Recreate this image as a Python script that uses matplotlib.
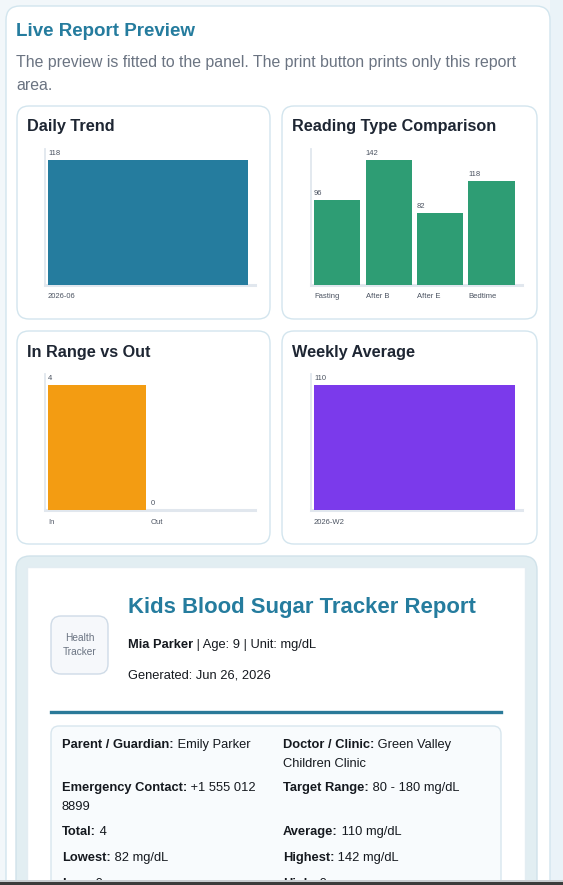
import matplotlib
matplotlib.use("Agg")
import matplotlib.pyplot as plt
from matplotlib.patches import FancyBboxPatch, Rectangle
from matplotlib.lines import Line2D

plt.rcParams['font.family'] = ['Liberation Sans', 'DejaVu Sans']

# ---------------- data ----------------
daily_labels = ["2026-06"]
daily_values = [118]
type_labels = ["Fasting", "After B", "After E", "Bedtime"]
type_values = [96, 142, 82, 118]
range_labels = ["In", "Out"]
range_values = [4, 0]
weekly_labels = ["2026-W2"]
weekly_values = [110]

W, H = 563, 885
fig = plt.figure(figsize=(W / 100, H / 100), dpi=100)
fig.patch.set_facecolor('#f2f7fa')

bg = fig.add_axes([0, 0, 1, 1])
bg.set_xlim(0, W)
bg.set_ylim(H, 0)
bg.axis('off')


def rbox(x0, y0, x1, y1, r, fc, ec, lw=1.0, z=1):
    p = FancyBboxPatch((x0, y0), x1 - x0, y1 - y0,
                       boxstyle=f"round,pad=0,rounding_size={r}",
                       fc=fc, ec=ec, lw=lw, zorder=z)
    bg.add_patch(p)
    return p


# right strip background
bg.add_patch(Rectangle((550, 0), 13, H, fc='#eaf3f8', ec='none', zorder=0))

# outer panel
rbox(6, 6, 550, 960, 14, 'white', '#d2e5ee', 1.0, 1)

TITLE_BLUE = '#257c9e'
DARK = '#1e2633'

bg.text(16, 31, "Live Report Preview", fontsize=13.5, fontweight='bold',
        color=TITLE_BLUE, va='center', ha='left', zorder=5)
bg.text(16, 63, "The preview is fitted to the panel. The print button prints only this report",
        fontsize=11.4, color='#6b7482', va='center', ha='left', zorder=5)
bg.text(16, 86, "area.", fontsize=11.4, color='#6b7482', va='center', ha='left', zorder=5)

# chart cards
cards = [
    (17, 106, 270, 319, "Daily Trend"),
    (282, 106, 537, 319, "Reading Type Comparison"),
    (17, 331, 270, 544, "In Range vs Out"),
    (282, 331, 537, 544, "Weekly Average"),
]
for (x0, y0, x1, y1, t) in cards:
    rbox(x0, y0, x1, y1, 12, 'white', '#d3e5ee', 1.0, 2)
    bg.text(x0 + 10, y0 + 21, t, fontsize=11.7, fontweight='bold', color=DARK,
            va='center', ha='left', zorder=5)

SMALL = 5.5


def bar_chart(x0, x1, ytop, ybase, labels, values, color):
    ax = fig.add_axes([x0 / W, 1 - ybase / H, (x1 - x0) / W, (ybase - ytop) / H])
    ax.set_facecolor('none')
    n = len(values)
    bar_px = (200 - 5 * (n - 1)) / n
    slot_px = bar_px + 5
    bw = bar_px / slot_px
    xs = list(range(n))
    ax.bar(xs, values, width=bw, align='edge', color=color, zorder=3)
    ax.set_xlim(-3 / slot_px, (n - 1) + bw + 7 / slot_px)
    vmax = max(values)
    ax.set_ylim(0, vmax * (ybase - ytop) / 125.0)
    for s in ['top', 'right']:
        ax.spines[s].set_visible(False)
    ax.spines['left'].set_color('#e1e7ee')
    ax.spines['left'].set_linewidth(1.3)
    ax.spines['bottom'].set_color('#e1e7ee')
    ax.spines['bottom'].set_linewidth(2.2)
    ax.set_xticks([])
    ax.set_yticks([])
    for i, (lab, v) in enumerate(zip(labels, values)):
        ax.annotate(str(v), (i, v), xytext=(0, 3), textcoords='offset pixels',
                    ha='left', va='bottom', fontsize=SMALL, color='#4b5361', zorder=4)
        ax.annotate(lab, (i, 0), xytext=(0, -12), textcoords='offset pixels',
                    ha='left', va='center', fontsize=SMALL, color='#4b5361',
                    annotation_clip=False)
    return ax


bar_chart(45, 255, 149, 285, daily_labels, daily_values, '#257c9e')
bar_chart(311, 522, 149, 285, type_labels, type_values, '#2e9d74')
bar_chart(45, 255, 374, 510, range_labels, range_values, '#f39c12')
bar_chart(311, 522, 374, 510, weekly_labels, weekly_values, '#7b3aeb')

# report container
rbox(16, 556, 537, 990, 14, '#e2eef2', '#d0e2ea', 1.0, 2)
bg.add_patch(Rectangle((27, 567), 498, 400, fc='white', ec='#e3edf2', lw=1.0, zorder=3))

# logo
rbox(51, 616, 108, 674, 10, '#f6f8fb', '#cfdbe7', 1.0, 4)
bg.text(80, 638, "Health", fontsize=7.3, color='#6b7482', ha='center', va='center', zorder=5)
bg.text(80, 652, "Tracker", fontsize=7.3, color='#6b7482', ha='center', va='center', zorder=5)

bg.text(128, 607, "Kids Blood Sugar Tracker Report", fontsize=15.9, fontweight='bold',
        color=TITLE_BLUE, ha='left', va='center', zorder=5)

BODY = 9.3


def mixed(x, y, bold, rest, size=BODY):
    t = bg.text(x, y, bold, fontsize=size, fontweight='bold', color='#15191f',
                ha='left', va='center', zorder=5)
    if rest:
        bg.annotate(rest, xy=(1, 0.5), xycoords=t, fontsize=size, color='#15191f',
                    ha='left', va='center', zorder=5)
    return t


mixed(128, 645, "Mia Parker", " | Age: 9 | Unit: mg/dL")
bg.text(128, 676, "Generated: Jun 26, 2026", fontsize=BODY, color='#15191f',
        ha='left', va='center', zorder=5)

bg.add_line(Line2D([51, 501], [712, 712], color='#2b7a99', lw=2.4, zorder=5))

# info box
rbox(51, 726, 501, 990, 8, '#f8fbfd', '#d8e6ee', 1.0, 4)

mixed(62, 745, "Parent / Guardian:", " Emily Parker")
mixed(283, 745, "Doctor / Clinic:", " Green Valley")
bg.text(283, 764, "Children Clinic", fontsize=BODY, color='#15191f', ha='left', va='center', zorder=5)
mixed(62, 788, "Emergency Contact:", " +1 555 012")
bg.text(62, 807, "8899", fontsize=BODY, color='#15191f', ha='left', va='center', zorder=5)
mixed(283, 788, "Target Range:", " 80 - 180 mg/dL")
mixed(62, 832, "Total:", " 4")
mixed(283, 832, "Average:", " 110 mg/dL")
mixed(62, 858, "Lowest:", " 82 mg/dL")
mixed(283, 858, "Highest:", " 142 mg/dL")
mixed(62, 884, "Low:", " 0")
mixed(283, 884, "High:", " 0")

# bottom window edge
bg.add_patch(Rectangle((0, 880), W, 2, fc='#c9cdd1', ec='none', zorder=20))
bg.add_patch(Rectangle((0, 882), W, 3, fc='#3c3c3c', ec='none', zorder=20))

fig.savefig("out.png", dpi=100)
